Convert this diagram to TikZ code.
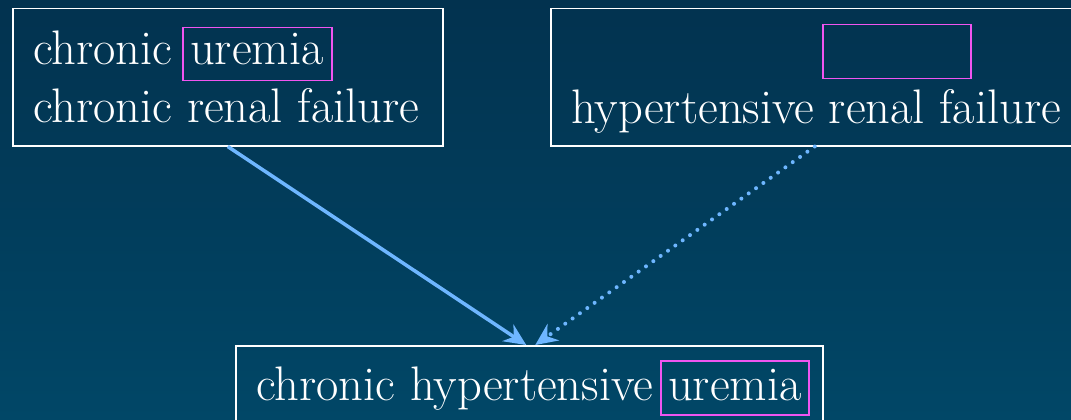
\documentclass[tikz,border=0pt]{standalone}
\usetikzlibrary{arrows.meta}
\definecolor{bgtop}{HTML}{02324F}
\definecolor{bgbot}{HTML}{014767}
\definecolor{arrowblue}{HTML}{6EB6FF}
\definecolor{pinkbox}{HTML}{F055F0}
\tikzset{
  box/.style={draw=white, line width=1.5pt, inner sep=0pt, anchor=north west},
  pink/.style={draw=pinkbox, line width=1.5pt, inner sep=0pt, anchor=north west},
  lbl/.style={text=white, inner sep=0pt, anchor=base west, font=\fontsize{48.5}{58}\selectfont},
  link/.style={draw=arrowblue, line width=3.5pt, -{Stealth[length=22pt,width=20pt]}},
  dotlink/.style={draw=arrowblue, line width=4pt, line cap=round, dash pattern=on 0pt off 9pt, -{Stealth[length=22pt,width=20pt]}}
}
\begin{document}
\begin{tikzpicture}[x=1pt,y=-1pt]
\useasboundingbox (0,0) rectangle (1071,420);
\shade[top color=bgtop, bottom color=bgbot] (0,0) rectangle (1071,420);
\clip (0,0) rectangle (1071,420);
% box 1
\node[box, minimum width=430pt, minimum height=137pt] (b1) at (12,8) {};
\node[pink, minimum width=149pt, minimum height=53pt] (p1) at (182,27) {};
\node[lbl] (t1a) at (33,65) {chronic};
\node[lbl] (t1u) at (190,65) {uremia};
\node[lbl] (t1b) at (33,122) {chronic renal failure};
% box 2
\node[box, minimum width=536pt, minimum height=137pt] (b2) at (550,8) {};
\node[pink, minimum width=148pt, minimum height=54pt] (p2) at (822,24) {};
\node[lbl] (t2) at (571,123) {hypertensive renal failure};
% box 3
\node[box, minimum width=587pt, minimum height=80pt] (b3) at (235,345) {};
\node[pink, minimum width=148pt, minimum height=54pt] (p3) at (660,360) {};
\node[lbl] (t3) at (256,400) {chronic hypertensive};
\node[lbl] (t3u) at (668,400) {uremia};
% connectors
\draw[link] (b1.south) -- ([xshift=-3pt]b3.north);
\draw[dotlink] ([xshift=-4pt]b2.south) -- ([xshift=6pt]b3.north);
\end{tikzpicture}
\end{document}
